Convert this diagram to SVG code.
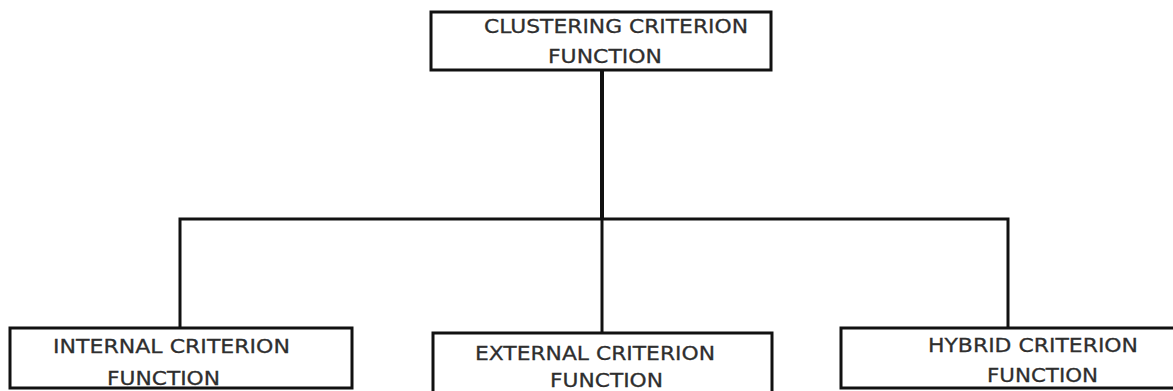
<svg xmlns="http://www.w3.org/2000/svg" width="1173" height="391" viewBox="0 0 1173 391">
<style>
.box{fill:#fff;stroke:#111;stroke-width:3}
.ln{fill:none;stroke:#111;stroke-width:3}
.t{font-family:"DejaVu Sans",Verdana,sans-serif;font-size:20px;fill:#2e2e2e;stroke:#2e2e2e;stroke-width:0.3}
</style>
<rect width="1173" height="391" fill="#fff"/>
<g id="connectors">
<line class="ln" x1="602" y1="70" x2="602" y2="219" style="stroke-width:4"/>
<polyline class="ln" points="180,328 180,219 1008,219 1008,328"/>
<line class="ln" x1="602" y1="219" x2="602" y2="333"/>
</g>
<g id="clustering">
<rect class="box" x="431" y="12" width="340" height="58"/>
<text class="t" x="484" y="33" textLength="264" lengthAdjust="spacingAndGlyphs">CLUSTERING CRITERION</text>
<text class="t" x="548" y="63" textLength="114" lengthAdjust="spacingAndGlyphs">FUNCTION</text>
</g>
<g id="internal">
<rect class="box" x="10" y="328" width="342" height="60"/>
<text class="t" x="53" y="353" textLength="237" lengthAdjust="spacingAndGlyphs">INTERNAL CRITERION</text>
<text class="t" x="107" y="385" textLength="113" lengthAdjust="spacingAndGlyphs">FUNCTION</text>
</g>
<g id="external">
<rect class="box" x="433" y="333" width="339" height="70"/>
<text class="t" x="475" y="360" textLength="240" lengthAdjust="spacingAndGlyphs">EXTERNAL CRITERION</text>
<text class="t" x="550" y="387" textLength="113" lengthAdjust="spacingAndGlyphs">FUNCTION</text>
</g>
<g id="hybrid">
<rect class="box" x="841" y="328" width="345" height="60"/>
<text class="t" x="928" y="352" textLength="210" lengthAdjust="spacingAndGlyphs">HYBRID CRITERION</text>
<text class="t" x="987" y="382" textLength="111" lengthAdjust="spacingAndGlyphs">FUNCTION</text>
</g>
</svg>
